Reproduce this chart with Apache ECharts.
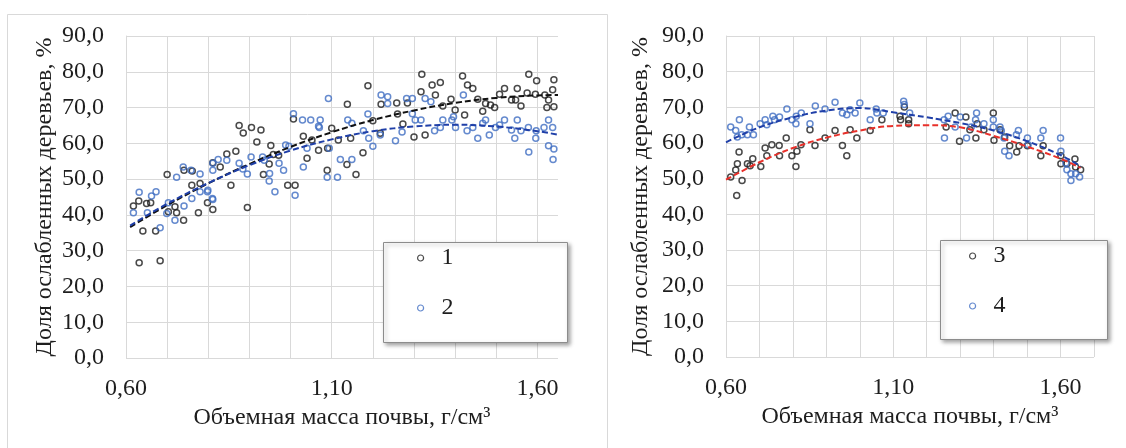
<!DOCTYPE html>
<html><head><meta charset="utf-8">
<script src="https://cdn.jsdelivr.net/npm/echarts@6/dist/echarts.min.js"></script>
<style>html,body{margin:0;padding:0;background:#fff}#c{width:1126px;height:448px}</style>
</head><body><div id="c"></div>
<script>
// ---- Data ----
const yTicks = [0,10,20,30,40,50,60,70,80,90];
const xLabelTicks = [0.60, 1.10, 1.60];
const yTitle = 'Доля ослабленных деревьев, %';
const xTitle = 'Объемная масса почвы, г/см³';
const legendLeft = ['1','2'];
const legendRight = ['3','4'];

// Left panel, series 1 (black)
const s1x = [0.875,0.885,0.905,0.928,0.918,0.952,1.007,1.031,1.052,1.068,0.958,0.971,0.867,0.845,0.811,0.829,0.934,0.948,0.993,1.011,1.04,0.855,0.741,0.761,0.70,0.76,0.78,
 0.618,0.631,0.65,0.66,0.641,0.672,0.632,0.683,0.719,0.703,0.723,0.74,0.798,0.811,0.776,0.895,
 1.138,1.188,1.22,1.258,1.284,1.319,1.317,1.344,1.352,1.364,1.418,1.43,1.443,1.39,1.37,1.40,1.423,1.455,1.467,1.474,1.486,1.496,1.508,1.52,1.537,1.547,1.551,1.56,1.579,1.575,1.598,1.595,1.618,1.627,1.623,1.64,1.637,1.64,1.327,1.30,1.273,1.26,1.218,1.20,1.176,1.146,1.159,1.10,1.089,1.116,1.137,1.09];
const s1y = [65.0,62.9,64.4,63.7,60.4,59.4,66.8,62.0,60.9,58.1,56.9,56.7,57.8,57.0,54.6,53.4,51.3,54.2,48.3,48.3,55.8,48.3,52.5,52.3,51.3,48.3,48.8,
 42.5,43.9,43.2,43.4,35.5,35.5,26.6,27.2,42.3,40.9,40.6,38.5,43.4,41.5,40.6,42.1,
 70.9,76.1,70.9,71.3,71.3,79.3,74.4,76.3,73.5,77.0,78.8,76.3,75.3,72.3,70.4,69.3,67.9,72.3,69.0,71.1,70.7,70.0,73.7,75.3,72.1,72.1,75.3,70.4,79.3,74.1,77.5,73.7,73.5,72.1,70.0,77.8,75.0,70.2,62.3,61.8,65.4,68.2,62.8,66.3,57.4,61.4,51.3,64.2,52.5,60.9,54.1,58.6];

// Left panel, series 2 (blue)
const s2x = [1.007,1.029,1.049,1.068,1.04,0.904,0.932,0.936,0.988,0.996,0.824,0.845,0.811,0.811,0.875,0.884,0.895,0.949,0.948,0.972,0.983,1.011,1.031,0.962,0.739,0.758,0.723,0.78,0.799,0.81,0.632,0.662,0.673,
 0.618,0.652,0.683,0.703,0.699,0.719,0.741,0.76,0.78,0.798,0.811,
 1.092,1.22,1.236,1.236,1.282,1.296,1.327,1.341,1.42,1.627,1.637,1.627,1.64,1.638,1.616,1.597,1.596,1.578,1.579,1.56,1.545,1.551,1.537,1.52,1.508,1.498,1.483,1.474,1.467,1.455,1.443,1.429,1.401,1.392,1.396,1.37,1.364,1.35,1.317,1.303,1.296,1.271,1.255,1.218,1.20,1.19,1.188,1.177,1.139,1.149,1.072,1.07,1.094,1.089,1.114,1.121,1.149];
const s2y = [68.3,66.5,66.5,64.8,58.6,56.2,56.2,55.3,59.5,59.2,55.5,55.3,54.4,52.5,54.4,52.8,51.4,51.6,49.5,54.4,52.5,45.5,53.4,46.5,53.4,52.5,50.5,51.4,46.9,44.6,46.3,45.3,46.5,
 40.6,40.6,36.4,43.4,40.4,38.5,42.5,44.6,46.5,46.5,44.3,
 72.5,73.5,73.0,71.1,72.5,72.5,72.5,71.6,73.5,66.5,64.4,59.3,58.4,55.5,64.4,63.5,61.4,64.4,57.6,63.5,61.4,66.5,63.7,66.5,65.1,64.4,62.3,66.5,65.6,61.4,64.4,63.5,64.4,66.5,67.4,66.5,64.4,63.5,66.5,66.5,68.3,63.2,60.7,62.3,59.2,61.4,68.2,63.5,66.5,65.6,66.5,64.4,58.6,50.5,50.5,55.5,55.5];

// Right panel, series 3 (black)
const s3x = [0.614,0.629,0.639,0.632,0.648,0.634,0.664,0.68,0.672,0.704,0.717,0.722,0.737,0.759,0.76,0.78,0.797,0.809,0.812,0.824,0.851,0.866,0.896,0.926,0.948,0.961,0.971,0.991,
 1.031,1.066,1.133,1.12,1.122,1.146,1.146,1.258,1.285,1.298,1.317,1.329,1.347,1.351,1.371,1.399,1.401,1.419,1.433,1.448,1.469,1.476,1.501,1.548,1.541,1.601,1.601,1.619,1.643,1.645,1.66];
const s3y = [50.5,52.4,57.5,45.3,49.5,54.2,54.2,55.6,53.6,53.4,58.6,56.4,59.5,59.3,56.4,61.4,56.4,53.4,57.7,59.5,63.7,59.3,61.4,63.5,59.3,56.4,63.7,61.4,
 63.5,66.5,70.1,67.5,66.5,66.5,65.4,64.5,68.4,60.5,67.3,63.7,61.4,65.4,63.7,68.4,60.8,63.7,61.7,59.2,57.5,59.2,59.2,59.2,56.4,56.4,54.2,54.2,55.5,53.3,52.5];

// Right panel, series 4 (blue)
const s4x = [0.614,0.629,0.64,0.634,0.647,0.664,0.67,0.682,0.702,0.717,0.722,0.74,0.745,0.76,0.782,0.797,0.809,0.81,0.825,0.851,0.867,0.896,0.926,0.948,0.961,0.971,0.986,1.0,
 1.031,1.049,1.051,1.07,1.131,1.133,1.149,1.252,1.253,1.264,1.285,1.30,1.319,1.333,1.349,1.346,1.371,1.399,1.399,1.419,1.423,1.431,1.433,1.446,1.468,1.474,1.501,1.503,1.541,1.548,1.60,1.601,1.616,1.619,1.631,1.631,1.645,1.657];
const s4y = [64.5,63.5,66.5,61.7,62.3,62.3,64.5,62.3,65.4,66.5,65.1,67.5,66.5,67.3,69.5,66.5,65.4,67.5,68.4,65.4,70.4,69.5,71.4,68.4,67.9,69.3,68.4,71.2,
 66.5,69.5,68.4,68.4,71.7,70.8,68.4,66.5,61.4,67.5,64.5,67.3,61.4,64.5,68.4,66.5,65.4,66.5,64.5,64.5,63.4,61.4,57.7,56.4,62.3,63.5,61.4,59.5,61.4,63.5,61.4,57.7,54.4,52.5,51.4,49.5,51.4,50.5];

// Trend lines
const t12x = [0.61,0.70,0.80,0.90,1.00,1.10,1.20,1.30,1.40,1.50,1.60,1.65];
const t1y  = [36.6,42.7,48.8,54.2,59.0,63.1,66.5,69.2,71.3,72.7,73.4,73.5];
const t2y  = [37.0,43.1,48.9,53.9,58.0,61.1,63.4,64.7,65.2,64.7,63.4,62.4];
const t34x = [0.60,0.70,0.80,0.90,1.00,1.10,1.20,1.30,1.40,1.50,1.60,1.66];
const t3y  = [49.7,54.6,58.6,61.5,63.5,64.8,65.0,64.4,62.0,59.0,55.6,53.0];
const t4y  = [60.2,64.4,67.2,69.1,69.8,68.6,67.2,65.6,63.5,60.5,56.6,53.5];

// ---- Chart ----
const FONT = 'Liberation Serif';
const TXT = '#1e1e1e';
const GRID = '#d9d9d9';
const BLACK = '#1c1c1c';
const BLUE = '#3f6dc2';
const zip = (xs, ys) => xs.map((x, i) => [x, ys[i]]);

function yLab(v){ return yTicks.includes(v) ? v.toFixed(1).replace('.', ',') : ''; }
function xLab(v){
  for (const t of xLabelTicks) if (Math.abs(v - t) < 1e-6) return t.toFixed(2).replace('.', ',');
  return '';
}
function xAxis(idx, max, nLines){
  const cols = [];
  for (let i = 0; i < nLines; i++) cols.push(GRID);
  cols.push('rgba(0,0,0,0)');
  return {
    type:'value', gridIndex:idx, min:0.6, max:max, interval:0.1,
    axisLine:{show:false}, axisTick:{show:false},
    splitLine:{show:true, lineStyle:{color: max > 1.69 ? GRID : cols, width:1}},
    axisLabel:{formatter:xLab, margin:19, fontFamily:FONT, fontSize:24, color:TXT, showMaxLabel:false},
    name:xTitle, nameLocation:'middle', nameGap:45,
    nameTextStyle:{fontFamily:FONT, fontSize:24, color:TXT}
  };
}
function yAxis(idx, gap){
  return {
    type:'value', gridIndex:idx, min:0, max:90, interval:10,
    axisLine:{show:true, lineStyle:{color:GRID}}, axisTick:{show:false},
    splitLine:{show:true, lineStyle:{color:GRID, width:1}},
    axisLabel:{formatter:yLab, margin:22, fontFamily:FONT, fontSize:24, color:TXT},
    name:yTitle, nameLocation:'middle', nameGap:gap,
    nameTextStyle:{fontFamily:FONT, fontSize:24, color:TXT}
  };
}
function scatter(name, xi, data, color){
  return {
    type:'scatter', name:name, xAxisIndex:xi, yAxisIndex:xi, data:data,
    symbol:'circle', symbolSize:6,
    itemStyle:{color:'rgba(0,0,0,0)', borderColor:color, borderWidth:1.5},
    emphasis:{disabled:true}, silent:true, z:3
  };
}
function trend(name, xi, data, color){
  return {
    type:'line', name:name, xAxisIndex:xi, yAxisIndex:xi, data:data,
    smooth:0.4, showSymbol:false, symbol:'none',
    lineStyle:{color:color, width:2, type:[6,3]},
    emphasis:{disabled:true}, silent:true, z:4
  };
}
function legend(names, colors, left, top){
  return {
    orient:'vertical', left:left, top:top, itemGap:26, itemWidth:6, itemHeight:6,
    icon:'circle', selectedMode:false, z:10,
    textStyle:{fontFamily:FONT, fontSize:24, color:TXT, padding:[0,0,0,13]},
    data: names.map((n, i) => ({name:n, itemStyle:{color:'#fff', borderColor:colors[i], borderWidth:1.2}}))
  };
}

const option = {
  animation:false,
  backgroundColor:'#fff',
  grid:[
    {left:126, top:36, width:432, height:322},
    {left:726, top:36, width:368, height:321}
  ],
  xAxis:[xAxis(0, 1.65, 11), xAxis(1, 1.70, 12)],
  yAxis:[yAxis(0, 69), yAxis(1, 73)],
  legend:[
    legend(legendLeft, [BLACK, BLUE], 412, 241),
    legend(legendRight, [BLACK, BLUE], 964, 239)
  ],
  graphic:[
    {type:'rect', shape:{x:7.5, y:14.5, width:600, height:460}, style:{fill:'none', stroke:'#d9d9d9', lineWidth:1}, z:0, silent:true},
    {type:'rect', shape:{x:383.5, y:242.5, width:184, height:100}, style:{fill:'#fff', stroke:'#8c8c8c', lineWidth:1, shadowBlur:4, shadowOffsetX:2, shadowOffsetY:2, shadowColor:'rgba(0,0,0,0.35)'}, z:8, silent:true},
    {type:'rect', shape:{x:940.5, y:240.5, width:167, height:99}, style:{fill:'#fff', stroke:'#8c8c8c', lineWidth:1, shadowBlur:4, shadowOffsetX:2, shadowOffsetY:2, shadowColor:'rgba(0,0,0,0.35)'}, z:8, silent:true}
  ],
  series:[
    scatter('1', 0, zip(s1x, s1y), BLACK),
    scatter('2', 0, zip(s2x, s2y), BLUE),
    trend('t1', 0, zip(t12x, t1y), '#111111'),
    trend('t2', 0, zip(t12x, t2y), '#1f3fa8'),
    scatter('3', 1, zip(s3x, s3y), BLACK),
    scatter('4', 1, zip(s4x, s4y), BLUE),
    trend('t3', 1, zip(t34x, t3y), '#e8302a'),
    trend('t4', 1, zip(t34x, t4y), '#1f3fa8')
  ]
};
const chart = echarts.init(document.getElementById('c'), null, {renderer:'canvas'});
chart.setOption(option);
</script>
</body></html>
